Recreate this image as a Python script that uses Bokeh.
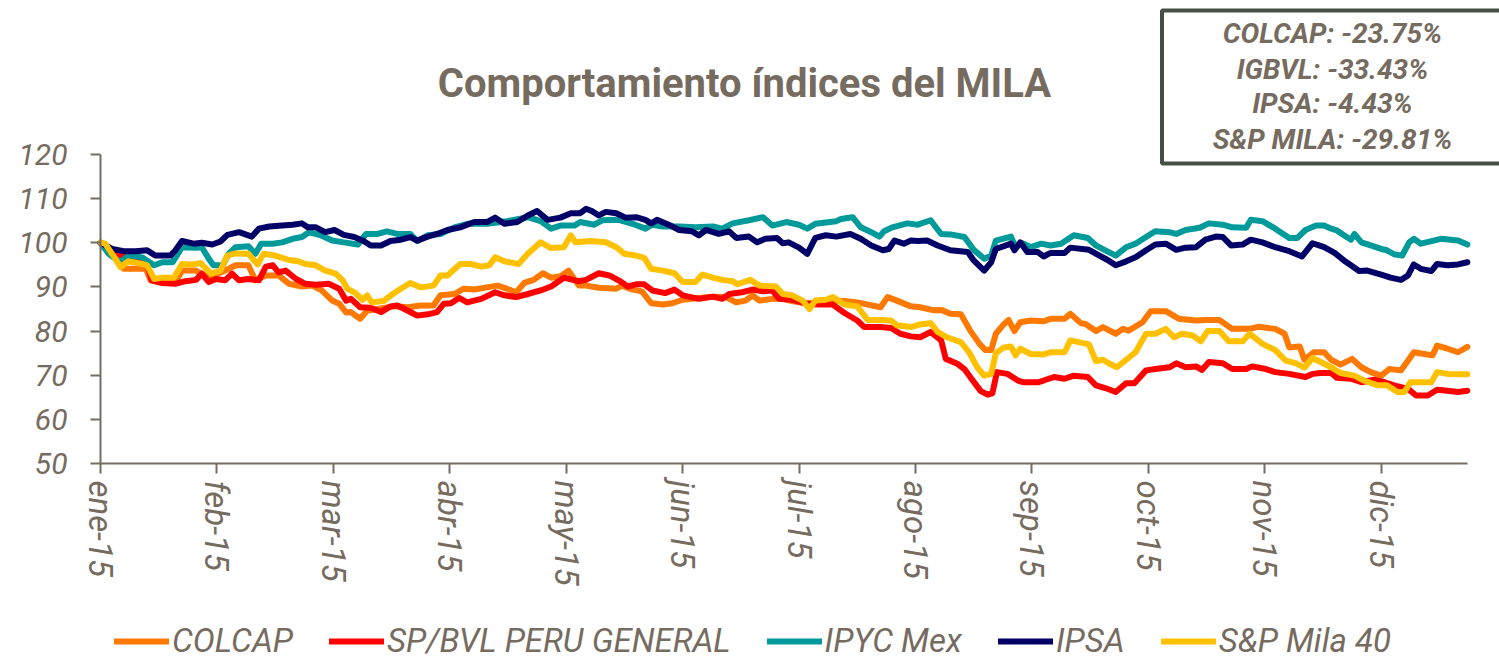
from bokeh.plotting import figure
from bokeh.models import Range1d, FixedTicker, Legend, LegendItem, Label, BoxAnnotation
from bokeh.embed import file_html
from bokeh.resources import INLINE

# ---------------- data (x = months since 1-ene-2015) ----------------
month_labels = ["ene-15", "feb-15", "mar-15", "abr-15", "may-15", "jun-15",
                "jul-15", "ago-15", "sep-15", "oct-15", "nov-15", "dic-15"]
y_ticks = [50, 60, 70, 80, 90, 100, 110, 120]

colcap_t = [0.00,0.07,0.14,0.20,0.27,0.39,0.43,0.53,0.64,0.70,0.82,0.93,1.07,1.16,1.27,1.33,1.42,1.53,1.62,1.73,1.82,1.90,1.99,2.05,2.11,2.15,2.23,2.29,2.38,2.52,2.64,2.75,2.86,2.92,3.04,3.12,3.21,3.32,3.41,3.49,3.57,3.64,3.72,3.80,3.87,3.95,4.02,4.11,4.17,4.28,4.43,4.48,4.57,4.65,4.73,4.83,4.91,5.00,5.14,5.26,5.37,5.46,5.54,5.60,5.66,5.77,5.86,5.94,6.06,6.17,6.29,6.39,6.50,6.70,6.76,6.84,6.96,7.04,7.16,7.22,7.30,7.39,7.47,7.55,7.60,7.65,7.69,7.75,7.80,7.85,7.90,7.99,8.10,8.16,8.28,8.33,8.42,8.46,8.55,8.61,8.72,8.78,8.83,8.95,9.02,9.15,9.26,9.41,9.49,9.61,9.72,9.87,9.95,10.09,10.17,10.21,10.30,10.34,10.42,10.51,10.57,10.65,10.75,10.83,10.91,11.00,11.07,11.17,11.23,11.28,11.37,11.44,11.48,11.57,11.66,11.74]
colcap_v = [100,98.3,96.0,94.1,94.1,94.1,91.5,90.9,90.9,93.7,93.7,92.1,93.7,94.9,94.9,91.5,92.6,92.6,90.7,90.1,90.3,89.2,86.9,86.2,84.2,84.3,82.8,84.6,85.0,85.6,85.4,85.8,85.8,88.1,88.4,89.6,89.4,89.9,90.3,89.6,88.8,90.9,91.6,93.1,92.1,92.4,93.7,90.3,90.3,89.8,89.6,90.3,89.4,89.0,86.3,86.0,86.3,87.1,87.5,87.8,87.7,86.5,86.9,88.1,86.9,87.3,87.3,86.8,86.3,86.5,86.9,86.8,86.5,85.4,87.7,86.9,85.6,85.4,84.7,84.8,83.9,83.8,80.1,77.1,75.7,75.7,79.4,81.3,82.5,80.0,82.0,82.4,82.2,82.8,82.8,83.9,81.8,81.6,80.0,80.9,79.4,80.5,80.1,82.0,84.5,84.5,82.8,82.4,82.5,82.5,80.5,80.5,81.0,80.5,79.4,76.3,76.5,73.5,75.2,75.2,73.5,72.4,73.7,71.8,70.7,69.9,71.4,71.1,73.3,75.2,74.8,74.5,76.7,76.0,75.2,76.4]

bvl_t = [0.00,0.10,0.19,0.27,0.39,0.44,0.53,0.64,0.73,0.82,0.87,0.93,0.99,1.07,1.13,1.19,1.27,1.36,1.42,1.48,1.53,1.59,1.68,1.76,1.85,1.96,2.05,2.11,2.15,2.23,2.32,2.41,2.49,2.55,2.64,2.72,2.81,2.89,2.95,3.01,3.08,3.15,3.27,3.39,3.47,3.57,3.67,3.78,3.87,3.98,4.10,4.17,4.28,4.37,4.45,4.53,4.60,4.67,4.74,4.85,4.93,5.00,5.14,5.26,5.34,5.40,5.51,5.60,5.69,5.77,5.83,5.94,6.06,6.17,6.29,6.39,6.50,6.56,6.70,6.79,6.87,6.96,7.04,7.13,7.22,7.26,7.36,7.42,7.47,7.56,7.62,7.66,7.70,7.79,7.88,7.93,8.05,8.10,8.19,8.28,8.36,8.48,8.55,8.63,8.72,8.81,8.88,8.98,9.06,9.18,9.24,9.32,9.41,9.46,9.52,9.64,9.72,9.84,9.89,10.01,10.09,10.21,10.35,10.41,10.48,10.57,10.62,10.74,10.83,10.94,11.03,11.11,11.23,11.30,11.40,11.48,11.57,11.66,11.74]
bvl_v = [100,98.3,96.9,96.9,96.0,91.5,90.9,90.7,91.3,91.6,93.0,91.1,91.8,91.5,93.0,91.5,91.8,91.5,94.6,94.9,93.3,93.7,91.8,90.7,90.5,90.7,89.6,86.9,87.3,85.4,85.3,84.3,85.6,85.8,84.6,83.5,83.8,84.3,86.2,86.3,87.5,86.5,87.3,88.8,88.1,87.7,88.4,89.2,90.1,92.1,91.3,91.6,93.1,92.6,91.5,90.1,90.6,90.6,89.2,88.6,89.4,88.1,87.3,87.8,87.3,88.4,88.8,89.4,89.0,89.2,87.3,87.1,86.2,86.0,86.0,84.1,82.4,80.9,80.9,80.7,79.4,78.8,78.6,79.8,77.9,73.7,72.6,71.4,69.6,66.4,65.6,65.9,70.7,70.3,68.8,68.4,68.4,68.8,69.6,69.2,69.9,69.6,67.7,67.1,66.2,68.2,68.2,71.1,71.4,71.8,72.7,71.8,72.0,71.2,73.0,72.7,71.4,71.4,72.0,71.4,70.7,70.3,69.6,70.3,70.5,70.5,69.4,69.2,68.4,69.0,68.4,67.7,66.9,65.4,65.4,66.7,66.5,66.2,66.5]

ipyc_t = [0.00,0.07,0.17,0.24,0.36,0.46,0.53,0.62,0.70,0.82,0.87,0.93,0.97,1.05,1.10,1.16,1.27,1.33,1.38,1.48,1.56,1.65,1.73,1.79,1.90,1.99,2.09,2.21,2.28,2.38,2.46,2.55,2.66,2.72,2.81,2.92,3.04,3.15,3.32,3.49,3.67,3.78,3.87,3.95,4.07,4.12,4.24,4.31,4.45,4.57,4.68,4.74,4.83,4.97,5.11,5.26,5.34,5.43,5.57,5.69,5.77,5.89,6.00,6.07,6.14,6.32,6.36,6.46,6.53,6.62,6.69,6.73,6.80,6.93,7.02,7.13,7.22,7.30,7.42,7.50,7.59,7.65,7.69,7.82,7.86,7.92,7.99,8.08,8.16,8.25,8.36,8.48,8.55,8.63,8.72,8.81,8.89,8.98,9.06,9.18,9.24,9.32,9.44,9.52,9.64,9.72,9.84,9.88,9.98,10.09,10.21,10.28,10.35,10.44,10.51,10.57,10.62,10.68,10.74,10.77,10.83,10.91,11.00,11.05,11.11,11.18,11.24,11.28,11.34,11.45,11.51,11.66,11.74]
ipyc_v = [100,97.5,95.6,97.1,96.7,94.9,95.6,95.6,99.0,98.9,99.0,96.4,94.9,94.9,97.5,99.0,99.2,97.5,99.8,99.8,100.1,100.9,101.3,102.4,101.6,100.5,100.1,99.6,102.0,102.0,102.6,102.0,102.0,100.4,101.7,102.0,103.5,104.3,104.3,104.9,105.8,104.9,103.2,103.9,103.9,104.7,104.1,105.1,105.2,104.3,103.2,104.1,103.7,103.7,103.5,103.7,103.2,104.4,105.1,105.8,103.9,104.7,104.1,103.2,104.3,104.9,105.4,105.8,103.5,102.4,101.4,102.6,103.5,104.4,104.1,105.1,102.0,101.9,101.3,98.4,96.4,97.1,100.5,101.4,99.0,99.9,99.0,99.8,99.4,99.8,101.7,101.1,99.4,98.3,97.1,99.0,99.8,101.3,102.6,102.4,102.0,102.9,103.4,104.4,104.1,103.5,103.4,105.2,104.9,103.2,101.1,101.1,102.9,103.9,103.9,103.2,102.8,101.7,100.7,102.0,100.1,99.4,98.6,98.3,97.4,97.1,100.1,100.9,99.8,100.5,100.9,100.5,99.6]

ipsa_t = [0.00,0.10,0.20,0.30,0.40,0.47,0.60,0.64,0.70,0.80,0.87,0.96,1.03,1.09,1.19,1.30,1.36,1.45,1.56,1.65,1.73,1.78,1.85,1.93,2.01,2.09,2.18,2.26,2.32,2.41,2.49,2.58,2.66,2.72,2.81,2.89,2.98,3.09,3.21,3.32,3.39,3.47,3.58,3.67,3.75,3.84,3.95,4.04,4.12,4.17,4.22,4.28,4.34,4.43,4.51,4.60,4.68,4.73,4.78,4.88,4.97,5.08,5.14,5.20,5.31,5.40,5.46,5.57,5.64,5.71,5.81,5.86,5.91,6.00,6.07,6.14,6.23,6.32,6.44,6.53,6.62,6.72,6.77,6.82,6.90,6.96,7.02,7.10,7.19,7.30,7.45,7.50,7.59,7.65,7.69,7.82,7.85,7.90,7.96,8.05,8.10,8.16,8.28,8.33,8.49,8.58,8.65,8.72,8.81,8.89,8.98,9.06,9.15,9.24,9.32,9.41,9.49,9.58,9.64,9.71,9.81,9.88,9.98,10.09,10.21,10.32,10.41,10.51,10.60,10.68,10.74,10.81,10.88,11.00,11.08,11.17,11.23,11.28,11.34,11.43,11.48,11.57,11.66,11.74]
ipsa_v = [100,98.6,98.1,98.1,98.3,97.1,97.1,98.2,100.4,99.8,100.0,99.6,100.3,101.8,102.4,101.4,103.2,103.7,103.9,104.1,104.4,103.5,103.5,102.4,102.9,101.8,101.3,100.4,99.4,99.4,100.4,100.7,101.3,100.5,101.4,102.0,102.9,103.5,104.7,104.7,105.7,104.3,104.7,106.2,107.2,105.2,105.7,106.7,106.7,107.7,107.2,106.2,107.0,106.7,105.7,105.8,105.2,104.4,105.2,104.1,102.9,102.6,101.7,102.9,102.0,102.6,101.1,101.4,100.1,100.9,101.1,99.9,100.1,98.9,97.5,101.1,101.7,101.4,102.0,100.9,99.4,98.3,98.6,100.5,99.8,100.5,100.4,100.5,99.4,98.3,97.9,96.0,93.7,95.6,98.6,99.8,98.3,100.1,97.9,97.9,96.9,97.7,97.7,98.9,98.4,97.1,96.1,94.9,95.8,96.7,98.3,99.6,99.8,98.4,98.9,99.0,100.7,101.4,101.3,99.4,99.6,100.7,100.1,99.0,98.1,96.9,99.9,99.0,97.7,96.0,94.9,93.6,93.7,92.8,92.1,91.6,92.6,95.1,94.1,93.6,95.2,94.9,95.1,95.6]

mila_t = [0.00,0.04,0.12,0.17,0.24,0.36,0.40,0.46,0.53,0.63,0.70,0.79,0.86,0.95,1.03,1.09,1.16,1.27,1.35,1.40,1.50,1.62,1.70,1.76,1.85,1.93,2.02,2.08,2.12,2.19,2.25,2.29,2.33,2.43,2.51,2.58,2.66,2.75,2.86,2.92,2.98,3.09,3.18,3.27,3.34,3.39,3.47,3.59,3.67,3.78,3.87,3.98,4.04,4.08,4.21,4.34,4.43,4.50,4.60,4.67,4.73,4.83,4.93,5.00,5.11,5.17,5.26,5.34,5.43,5.47,5.58,5.66,5.80,5.86,5.94,6.03,6.09,6.14,6.23,6.29,6.39,6.50,6.59,6.70,6.79,6.84,6.96,7.04,7.13,7.19,7.27,7.39,7.46,7.53,7.59,7.65,7.69,7.76,7.82,7.86,7.90,7.99,8.10,8.16,8.28,8.33,8.49,8.55,8.61,8.66,8.73,8.81,8.89,8.98,9.06,9.15,9.22,9.29,9.38,9.45,9.51,9.61,9.69,9.81,9.87,9.98,10.09,10.18,10.27,10.34,10.41,10.48,10.57,10.65,10.77,10.85,10.97,11.05,11.14,11.20,11.25,11.34,11.43,11.48,11.57,11.66,11.74]
mila_v = [100.1,99.8,96.7,94.5,95.8,95.2,94.9,91.8,92.1,92.1,95.2,95.1,95.4,93.0,93.7,97.1,97.6,97.5,95.1,97.5,97.1,96.1,95.8,95.2,94.9,93.7,93.0,91.5,89.6,88.6,87.1,88.1,86.5,86.8,88.4,89.6,90.9,89.9,90.3,92.6,92.6,95.2,95.2,94.6,94.9,96.7,95.8,95.2,97.5,100.1,98.8,99.0,101.7,100.1,100.4,100.1,99.0,97.5,97.1,96.6,94.1,93.7,93.1,91.1,91.1,92.8,92.1,91.6,91.3,90.6,91.6,90.3,90.1,88.4,88.1,86.9,85.0,86.9,87.1,87.7,86.0,85.6,82.5,82.5,82.4,81.3,80.9,81.5,81.8,79.8,78.6,77.5,75.2,71.8,69.9,70.3,75.0,76.3,76.5,74.5,76.0,74.8,74.7,75.2,75.2,77.9,77.0,73.2,73.5,72.7,71.8,73.5,75.2,79.4,79.4,80.5,78.6,79.4,79.0,77.7,80.0,80.0,77.7,77.7,79.4,77.1,75.7,73.3,72.7,71.7,73.9,73.0,71.8,70.5,69.9,68.8,67.7,67.7,66.2,66.2,68.4,68.4,68.4,70.7,70.3,70.2,70.2]

series_names = ["COLCAP", "SP/BVL PERU GENERAL", "IPYC Mex", "IPSA", "S&P Mila 40"]
series_colors = ["#FF7800", "#FF0000", "#009A9A", "#000066", "#FFC000"]
series_t = [colcap_t, bvl_t, ipyc_t, ipsa_t, mila_t]
series_v = [colcap_v, bvl_v, ipyc_v, ipsa_v, mila_v]

title_text = "Comportamiento índices del MILA"
box_lines = ["COLCAP: -23.75%", "IGBVL: -33.43%", "IPSA: -4.43%", "S&P MILA: -29.81%"]

# ---------------- styling ----------------
TXT = "#766B5F"
AX = "#766C61"
FONT = "Roboto"
X_END = 11.741

# the frame spans the whole canvas; the axes are pinned at x=0 / y=50
p = figure(width=1499, height=661, output_backend="svg", toolbar_location=None,
           x_range=Range1d(-0.8589, 12.016), y_range=Range1d(5.146, 154.887),
           min_border_left=0, min_border_right=0, min_border_top=0, min_border_bottom=0)
p.title.visible = False
p.outline_line_color = None
p.grid.visible = False
p.background_fill_color = "white"
p.border_fill_color = "white"

renderers = []
for t, v, c in zip(series_t, series_v, series_colors):
    r = p.line(t, v, line_color=c, line_width=6, line_join="round", line_cap="round")
    renderers.append(r)

# axes
p.xaxis.fixed_location = 50
p.yaxis.fixed_location = 0
p.xaxis.bounds = (0, X_END)
p.yaxis.bounds = (50, 120)
p.xaxis.ticker = FixedTicker(ticks=list(range(len(month_labels))))
p.xaxis.major_label_overrides = {i: lab for i, lab in enumerate(month_labels)}
p.xaxis.major_label_orientation = "vertical"
p.yaxis.ticker = FixedTicker(ticks=y_ticks)
for ax in (p.xaxis, p.yaxis):
    ax.axis_line_color = AX
    ax.axis_line_width = 2
    ax.major_tick_line_color = AX
    ax.major_tick_line_width = 2
    ax.major_tick_in = 0
    ax.major_tick_out = 10
    ax.minor_tick_line_color = None
    ax.major_label_text_color = TXT
    ax.major_label_text_font = FONT
    ax.major_label_text_font_style = "italic"
p.xaxis.major_label_text_font_size = "33px"
p.xaxis.major_label_standoff = 7
p.yaxis.major_label_text_font_size = "30px"
p.yaxis.major_label_standoff = 23

# title
p.add_layout(Label(x=5.531, y=136.09, text=title_text, text_align="center", text_baseline="middle",
                   text_font=FONT, text_font_style="bold", text_font_size="40px", text_color=TXT))

# summary box (its right side runs off the canvas, as in the reference)
p.add_layout(BoxAnnotation(left=9.117, right=12.6, bottom=117.96, top=152.62,
                           fill_alpha=0, line_color="#454F42", line_alpha=1.0, line_width=4))
for txt, yy in zip(box_lines, [147.41, 139.26, 131.55, 123.40]):
    p.add_layout(Label(x=10.581, y=yy, text=txt, text_align="center", text_baseline="middle",
                       text_font=FONT, text_font_style="bold italic", text_font_size="28px",
                       text_color=TXT))

legend = Legend(items=[LegendItem(label=n, renderers=[r]) for n, r in zip(series_names, renderers)],
                orientation="horizontal", location=(114, 1),
                glyph_width=55, glyph_height=32, label_standoff=3, spacing=36,
                padding=0, margin=0, border_line_alpha=0, background_fill_alpha=0,
                label_text_font=FONT, label_text_font_style="italic", label_text_font_size="33px",
                label_text_color=TXT)
p.add_layout(legend)

open("out.html", "w").write(file_html(p, INLINE))
